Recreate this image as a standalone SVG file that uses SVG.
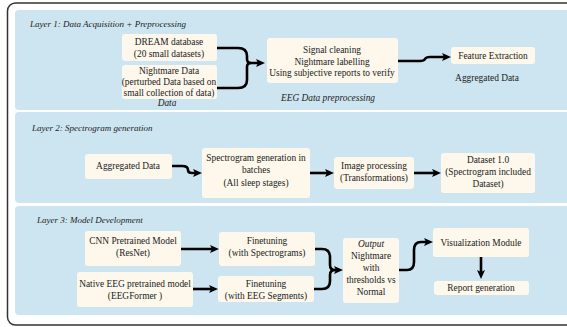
<svg xmlns="http://www.w3.org/2000/svg" width="567" height="327" viewBox="0 0 567 327">
<style>
.panel{fill:#cde5f0}
.box{fill:#fdf8eb}
text{font-family:"Liberation Serif","Times New Roman",serif;font-size:9.4px;fill:#222;text-anchor:middle}
.title{font-style:italic;font-size:9px;text-anchor:start}
.it{font-style:italic}
.conn path{fill:none;stroke:#000;stroke-width:2.6;stroke-linejoin:round}
</style>
<defs>
<marker id="ah" viewBox="0 0 9 9" refX="5" refY="4.5" markerWidth="9" markerHeight="9" markerUnits="userSpaceOnUse" orient="auto">
<path d="M0,0.5 L9,4.5 L0,8.5 L2,4.5 z" fill="#000"/>
</marker>
</defs>
<rect x="0" y="0" width="567" height="327" fill="#fff"/>
<rect x="7.5" y="3" width="600" height="322" rx="8" fill="#fff" stroke="#333" stroke-width="1.5"/>
<g id="layer1">
<rect class="panel" x="15" y="10" width="600" height="100" rx="4"/>
<text class="title" x="30" y="27">Layer 1: Data Acquisition + Preprocessing</text>
</g>
<g id="layer2">
<rect class="panel" x="15" y="112" width="600" height="91" rx="4"/>
<text class="title" x="32" y="131">Layer 2: Spectrogram generation</text>
</g>
<g id="layer3">
<rect class="panel" x="15" y="206" width="600" height="109" rx="4"/>
<text class="title" x="37" y="223">Layer 3: Model Development</text>
</g>
<g id="dream">
<rect class="box" x="122" y="34" width="95" height="27" rx="3"/>
<text x="169" y="45">DREAM database</text>
<text x="169" y="57">(20 small datasets)</text>
</g>
<g id="nightmare">
<rect class="box" x="122" y="65" width="95" height="34" rx="3"/>
<text x="169" y="74">Nightmare Data</text>
<text x="169" y="85">(perturbed Data based on</text>
<text x="169" y="96">small collection of data)</text>
<text class="it" x="167" y="106">Data</text>
</g>
<g id="preprocess">
<rect class="box" x="267" y="38" width="131" height="45" rx="3"/>
<text x="332" y="53">Signal cleaning</text>
<text x="332" y="65">Nightmare labelling</text>
<text x="332" y="76">Using subjective reports to verify</text>
<text class="it" x="328" y="101">EEG Data preprocessing</text>
</g>
<g id="feature">
<rect class="box" x="451" y="47" width="84" height="17" rx="3"/>
<text x="493" y="59">Feature Extraction</text>
<text x="487" y="81">Aggregated Data</text>
</g>
<g id="aggregated">
<rect class="box" x="85" y="154" width="87" height="25" rx="3"/>
<text x="128" y="169">Aggregated Data</text>
</g>
<g id="spectrogram">
<rect class="box" x="202" y="148" width="108" height="50" rx="3"/>
<text x="256" y="161">Spectrogram generation in</text>
<text x="256" y="173">batches</text>
<text x="256" y="186">(All sleep stages)</text>
</g>
<g id="imageproc">
<rect class="box" x="334" y="157" width="80" height="32" rx="3"/>
<text x="374" y="169">Image processing</text>
<text x="374" y="181">(Transformations)</text>
</g>
<g id="dataset">
<rect class="box" x="441" y="153" width="94" height="40" rx="3"/>
<text x="488" y="163">Dataset 1.0</text>
<text x="488" y="175">(Spectrogram included</text>
<text x="488" y="187">Dataset)</text>
</g>
<g id="cnn">
<rect class="box" x="85" y="231" width="96" height="35" rx="3"/>
<text x="133" y="244">CNN Pretrained Model</text>
<text x="133" y="256">(ResNet)</text>
</g>
<g id="native">
<rect class="box" x="77" y="272" width="116" height="35" rx="3"/>
<text x="135" y="287">Native EEG pretrained model</text>
<text x="135" y="299">(EEGFormer )</text>
</g>
<g id="fine1">
<rect class="box" x="219" y="232" width="96" height="34" rx="3"/>
<text x="267" y="244">Finetuning</text>
<text x="267" y="256">(with Spectrograms)</text>
</g>
<g id="fine2">
<rect class="box" x="218" y="276" width="96" height="26" rx="3"/>
<text x="266" y="287">Finetuning</text>
<text x="266" y="299">(with EEG Segments)</text>
</g>
<g id="output">
<rect class="box" x="343" y="238" width="56" height="65" rx="3"/>
<text class="it" x="371" y="247">Output</text>
<text x="371" y="259">Nightmare</text>
<text x="371" y="271">with</text>
<text x="371" y="283">thresholds vs</text>
<text x="371" y="295">Normal</text>
</g>
<g id="visualization">
<rect class="box" x="433" y="228" width="96" height="29" rx="3"/>
<text x="481" y="246">Visualization Module</text>
</g>
<g id="report">
<rect class="box" x="434" y="281" width="95" height="14" rx="3"/>
<text x="481" y="291">Report generation</text>
</g>
<g id="connectors" class="conn">
<path d="M217,48 H238 Q247,48 247,56 V59 Q247,63 251,63 H261" marker-end="url(#ah)"/>
<path d="M217,88 H238 Q247,88 247,80 V67 Q247,63 251,63"/>
<path d="M398,61 H420 Q424,61 425,59 Q426,57 430,57 H447" marker-end="url(#ah)"/>
<path d="M172,166 H182 Q188,166 188,170 Q188,173 192,173 H198" marker-end="url(#ah)"/>
<path d="M310,173 H330" marker-end="url(#ah)"/>
<path d="M414,173 H437" marker-end="url(#ah)"/>
<path d="M181,249 H215" marker-end="url(#ah)"/>
<path d="M193,289 H214" marker-end="url(#ah)"/>
<path d="M315,249 H322 Q330,249 330,257 V265 Q330,270 335,270 H339" marker-end="url(#ah)"/>
<path d="M314,289 H322 Q330,289 330,281 V275 Q330,270 335,270"/>
<path d="M399,270 H407 Q414,270 414,262 V250 Q414,242 421,242 H429" marker-end="url(#ah)"/>
<path d="M481,257 V275" marker-end="url(#ah)"/>
</g>
</svg>
